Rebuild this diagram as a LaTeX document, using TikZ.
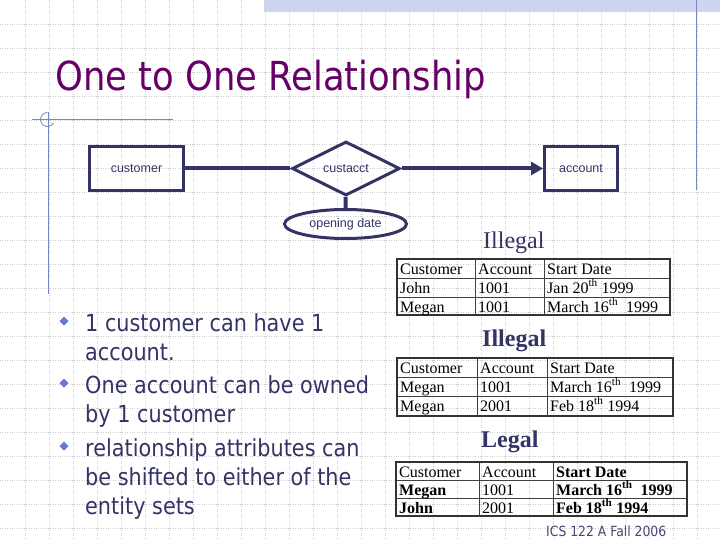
\documentclass[tikz,border=0pt]{standalone}
\usepackage{fontspec}
\setmainfont{Liberation Serif}
\newfontfamily\slidefont[FakeStretch=0.885]{DejaVu Sans}
\newfontfamily\erfont{Liberation Sans}
\usetikzlibrary{shapes.geometric,arrows.meta}

\definecolor{navy}{RGB}{51,51,102}
\definecolor{titlec}{RGB}{102,0,102}
\definecolor{bulletc}{RGB}{102,119,221}
\definecolor{decoc}{RGB}{120,135,190}
\definecolor{bandc}{RGB}{205,214,238}
\definecolor{gridc}{RGB}{205,205,205}
\definecolor{footc}{RGB}{70,70,115}

\tikzset{
  entity/.style={draw=navy, line width=3pt, minimum height=44pt, inner sep=0pt,
    text=navy, font=\erfont\fontsize{12.5}{14}\selectfont},
  relship/.style={entity, diamond, minimum width=108pt, minimum height=37pt},
  attrib/.style={entity, ellipse, minimum width=122pt, minimum height=29pt},
  erline/.style={navy, line width=4pt},
  cell/.style={anchor=base west, inner sep=0pt, font=\fontsize{16}{17}\selectfont},
  tabframe/.style={draw=black!80, line width=1.6pt},
  tabgrid/.style={black!75, line width=0.9pt},
  verdict/.style={anchor=base west, inner sep=0pt, text=navy, font=\fontsize{24}{26}\selectfont},
  verdictbold/.style={verdict, font=\fontsize{24}{26}\selectfont\bfseries},
  bullettext/.style={anchor=base west, inner sep=0pt, align=left, text=navy,
    font=\slidefont\fontsize{23.5}{29}\selectfont}
}

\begin{document}
\begin{tikzpicture}[x=1pt, y=-1pt]
  \useasboundingbox (0,0) rectangle (720,540);

  % Lưới nền
  \foreach \i in {1,...,29} \draw[gridc, dotted] ({0.7+24*\i},0) -- ({0.7+24*\i},540);
  \foreach \j in {1,...,22} \draw[gridc, dotted] (0,{24*\j}) -- (720,{24*\j});

  % Trang trí
  \fill[bandc] (264,0) rectangle (720,12);
  \draw[decoc, line width=1pt] (696.5,0) -- (696.5,190);
  \draw[decoc, line width=1pt] (48,112) -- (48,294);
  \draw[decoc, line width=1pt] (32,120) -- (173,120);
  \draw[decoc, line width=0.8pt] (47.5,119.5) ++(270:7) arc[start angle=270, end angle=30, radius=7];

  % Tiêu đề
  \node[anchor=base west, inner sep=0pt, text=titlec, font=\slidefont\fontsize{40}{44}\selectfont]
    (title) at (55,91) {One to One Relationship};

  % Sơ đồ ER
  \node[entity, minimum width=94pt] (customer) at (136.5,168.5) {customer};
  \node[entity, minimum width=73pt] (account) at (581,168.5) {account};
  \node[relship] (custacct) at (346,168.5) {custacct};
  \node[attrib] (opendate) at (345.5,224) {opening date};

  \draw[erline] (customer) -- (custacct);
  \draw[erline, -{Triangle[length=12pt, width=13pt]}] (custacct) -- (account);
  \draw[erline] (custacct) -- (opendate);

  % Gạch đầu dòng (base = dòng cuối)
  \foreach \y in {321,383,446}
    \fill[bulletc] (64,\y) ++(0,-4.5) -- ++(4.5,4.5) -- ++(-4.5,4.5) -- ++(-4.5,-4.5) -- cycle;
  \node[bullettext] (b1) at (85,360) {1 customer can have 1\\account.};
  \node[bullettext] (b2) at (85,422) {One account can be owned\\by 1 customer};
  \node[bullettext] (b3) at (85,514) {relationship attributes can\\be shifted to either of the\\entity sets};

  % Bảng 1
  \node[verdict] (ill1) at (483,248) {Illegal};
  \draw[tabframe] (397,259) rectangle (670,315);
  \foreach \y in {278,297} \draw[tabgrid] (397,\y) -- (670,\y);
  \foreach \x in {475,544} \draw[tabgrid] (\x,259) -- (\x,315);
  \foreach \x/\y/\t [count=\n] in {
      400/274/Customer, 478/274/Account, 547/274/Start Date,
      400/293/John, 478/293/1001, 547/293/Jan 20\textsuperscript{th} 1999,
      400/312/Megan, 478/312/1001, 547/312/March 16\textsuperscript{th}\ \ 1999}
    \node[cell] (ta\n) at (\x,\y) {\t};

  % Bảng 2
  \node[verdictbold] (ill2) at (482,346) {Illegal};
  \draw[tabframe] (397,358) rectangle (673,416);
  \foreach \y in {377,396} \draw[tabgrid] (397,\y) -- (673,\y);
  \foreach \x in {477,547} \draw[tabgrid] (\x,358) -- (\x,416);
  \foreach \x/\y/\t [count=\n] in {
      400/373/Customer, 480/373/Account, 550/373/Start Date,
      400/392/Megan, 480/392/1001, 550/392/March 16\textsuperscript{th}\ \ 1999,
      400/411/Megan, 480/411/2001, 550/411/Feb 18\textsuperscript{th} 1994}
    \node[cell] (tb\n) at (\x,\y) {\t};

  % Bảng 3
  \node[verdictbold] (leg3) at (481,447) {Legal};
  \draw[tabframe] (396,462) rectangle (687,516);
  \foreach \y in {480,498} \draw[tabgrid] (396,\y) -- (687,\y);
  \foreach \x in {479,553} \draw[tabgrid] (\x,462) -- (\x,516);
  \foreach \x/\y/\t [count=\n] in {
      399/477/Customer, 482/477/Account, 556/477/\textbf{Start Date},
      399/495/\textbf{Megan}, 482/495/1001, 556/495/\textbf{March 16\textsuperscript{th}\ \ 1999},
      399/513/\textbf{John}, 482/513/2001, 556/513/\textbf{Feb 18\textsuperscript{th} 1994}}
    \node[cell] (tc\n) at (\x,\y) {\t};

  % Chân trang
  \node[anchor=base west, inner sep=0pt, text=footc, font=\slidefont\fontsize{14}{16}\selectfont]
    (foot) at (546,536) {ICS 122 A Fall 2006};
\end{tikzpicture}
\end{document}
